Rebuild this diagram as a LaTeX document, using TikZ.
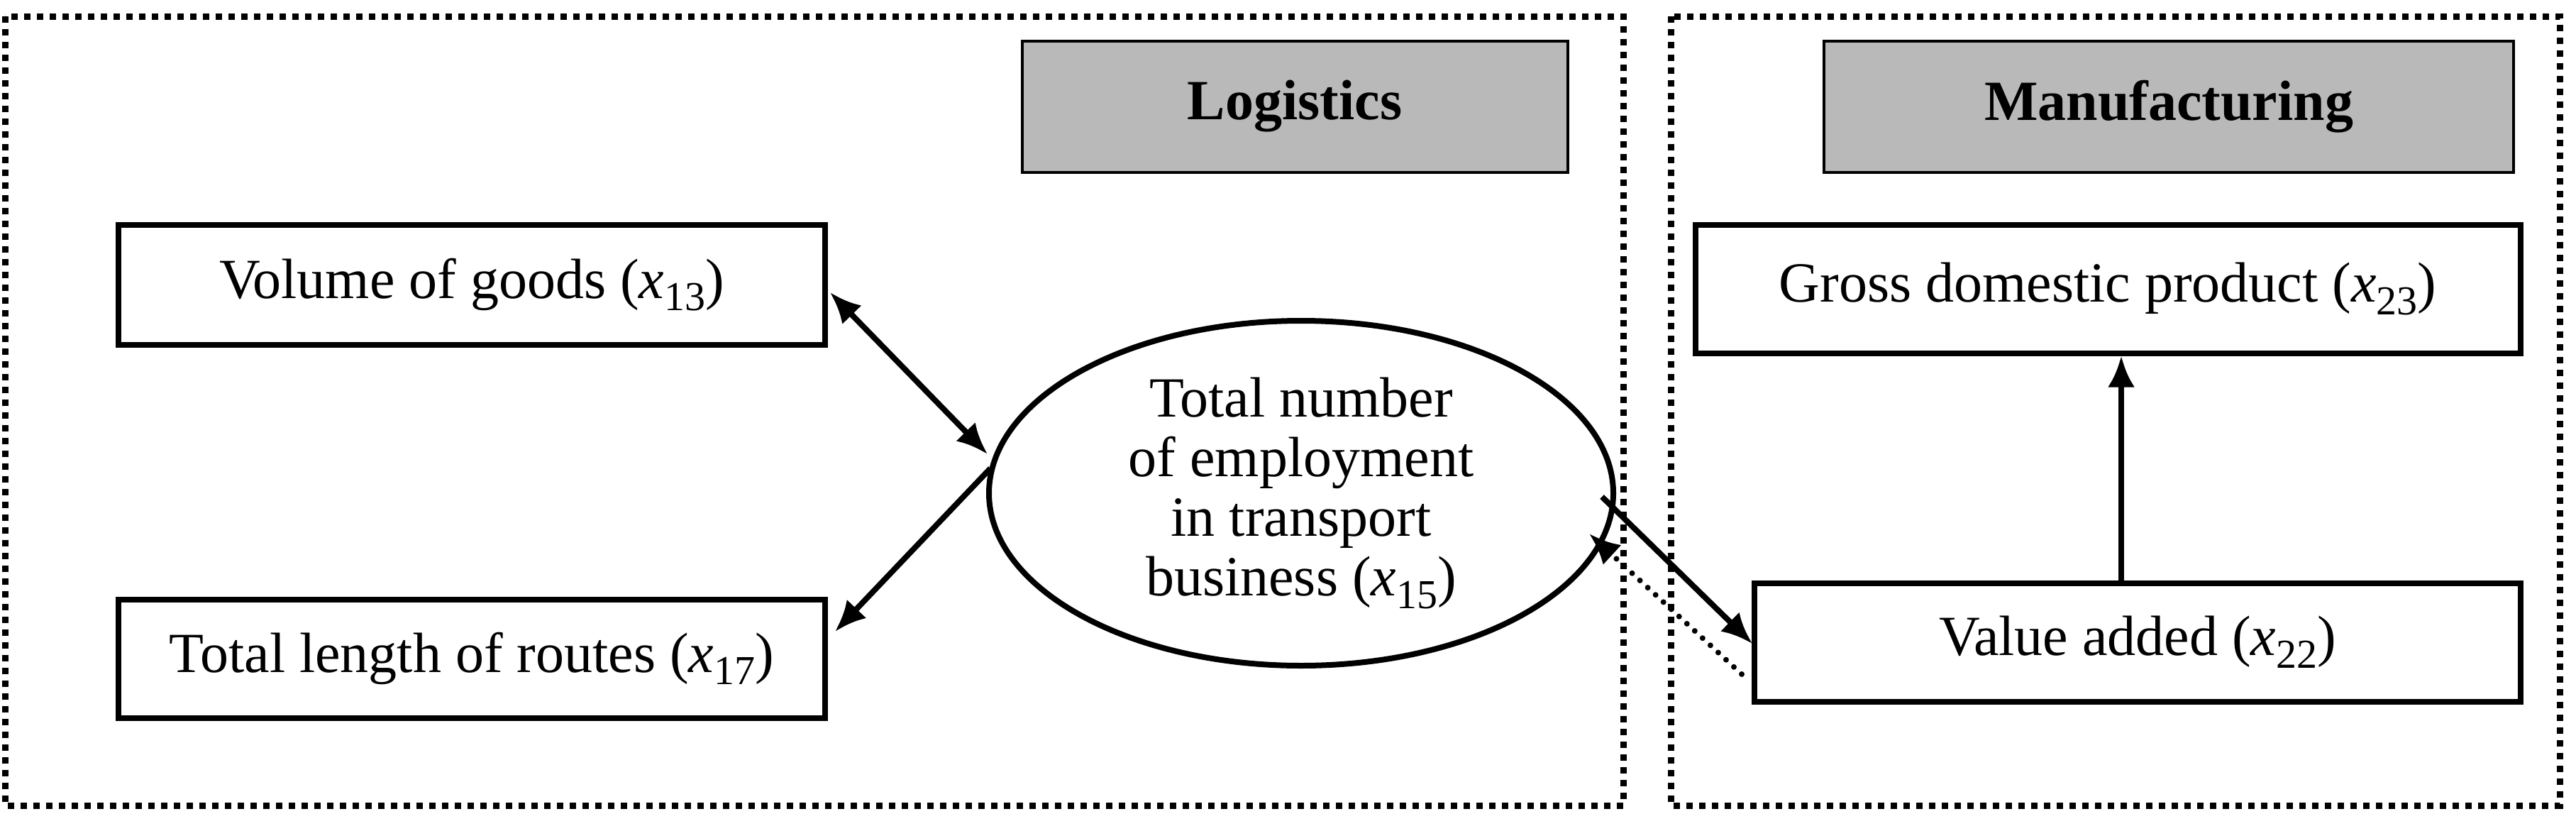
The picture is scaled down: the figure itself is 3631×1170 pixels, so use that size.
\documentclass[tikz,border=0pt]{standalone}
\usepackage{fontspec}
\setmainfont{Liberation Serif}
\usetikzlibrary{arrows.meta,shapes.geometric}
\newcommand{\xsub}[1]{\textit{x}\raisebox{-0.22em}{\fontsize{58}{58}\selectfont #1}}
\begin{document}
\begin{tikzpicture}[x=1pt,y=-1pt,
  box/.style={draw,line width=8pt,minimum height=0pt,inner sep=0pt,font=\fontsize{80}{92}\selectfont},
  hdr/.style={draw,line width=4pt,fill=gray!55,inner sep=0pt,font=\bfseries\fontsize{80}{92}\selectfont},
  frame/.style={line width=9pt,dash pattern=on 9pt off 9pt},
  arr/.style={line width=8pt,{Latex[length=44pt,width=38pt]}-{Latex[length=44pt,width=38pt]}},
  sarr/.style={line width=8pt,-{Latex[length=44pt,width=38pt]}},
  darr/.style={line width=8pt,line cap=round,dash pattern=on 0pt off 15pt,-{Latex[length=44pt,width=38pt]}}]
\useasboundingbox (0,0) rectangle (3631,1170);
\draw[frame] (7,23) rectangle (2288,1135);
\draw[frame] (2355,23) rectangle (3608,1135);
\node[hdr,minimum width=769pt,minimum height=185pt] (log) at (1825,150) {Logistics};
\node[hdr,minimum width=972pt,minimum height=185pt] (man) at (3057,150) {Manufacturing};
\node[box,minimum width=996pt,minimum height=169pt] (vol) at (665,401) {Volume of goods (\xsub{13})};
\node[box,minimum width=996pt,minimum height=167pt] (len) at (665,928) {Total length of routes (\xsub{17})};
\node[draw,line width=8pt,ellipse,minimum width=880pt,minimum height=486pt,inner sep=0pt,align=center,font=\fontsize{80}{84}\selectfont] (el) at (1834,695) {Total number\\of employment\\in transport\\business (\xsub{15})};
\node[box,minimum width=1163pt,minimum height=181pt] (gdp) at (2971,407) {Gross domestic product (\xsub{23})};
\node[box,minimum width=1080pt,minimum height=167pt] (va) at (3013,905) {Value added (\xsub{22})};
\coordinate (a1) at (1170,412);
\coordinate (e1) at (1392,640);
\coordinate (a2) at (1177,890);
\coordinate (e2) at (1396,660);
\coordinate (e3) at (2258,700);
\coordinate (v3) at (2470,907);
\coordinate (e4) at (2240,752);
\coordinate (v4) at (2455,950);
\coordinate (vt) at (2990,822);
\draw[arr] (a1) -- (e1);
\draw[sarr] (e2) -- (a2);
\draw[sarr] (e3) -- (v3);
\draw[darr] (v4) -- (e4);
\draw[sarr] (vt) -- (vt |- gdp.south);
\end{tikzpicture}
\end{document}
